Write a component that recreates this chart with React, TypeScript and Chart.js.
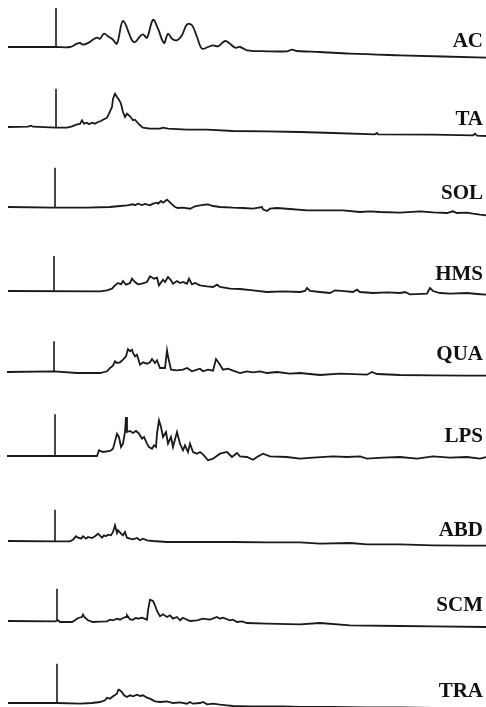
import React, { useEffect, useRef } from "react";
import { Chart, registerables } from "chart.js";

Chart.register(...registerables);

// Muscle names (trace labels)
const MUSCLES = ["AC", "TA", "SOL", "HMS", "QUA", "LPS", "ABD", "SCM", "TRA"];

// Stimulus marker: time position and height (amplitude units)
const STIM_X = [56, 56, 55, 54, 54, 55, 55, 57, 57];
const STIM_H = [39, 38.3, 39.3, 35, 30.7, 41.7, 31.3, 32.3, 39.3];

// EMG traces: [time, amplitude]
const AC = [[8,0],[56,0],[70,0],[77,3.3],[80,4],[83,2.3],[88,4],[93,7.3],[97,9.3],[100,8.3],[104,13.3],[108,10.7],[113,7.3],[117,3.3],[123,26],[132,6.7],[135,5],[140,10.7],[143,12.7],[147,9.3],[153,27.3],[158,18.3],[164,4],[168,13.3],[172,8.3],[177,6.7],[182,11.7],[187,22.7],[192,21.7],[197,10],[202,-1.7],[208,0],[213,1.7],[218,0.7],[225,6],[230,3.3],[235,-0.7],[240,0],[247,-3.3],[267,-4.3],[287,-4.3],[292,-2.7],[297,-4],[320,-5],[350,-6.7],[400,-8.3],[486,-10.7]];
const TA = [[8,0],[28,0.3],[31,1.3],[33,0.3],[56,-0.7],[67,-0.7],[72,0.7],[77,2.7],[80,3],[82,6.7],[84,3.3],[87,4.3],[89,2.7],[92,4.3],[95,3.3],[98,5],[101,6],[103,7.3],[107,9.3],[109,13.3],[112,20],[113,28.3],[115,33.3],[117,30],[119,27.3],[121,23.3],[123,15],[125,10],[127,13.3],[130,10.7],[133,6.7],[135,7.3],[137,5],[140,1.7],[143,-0.7],[150,-1.7],[160,-1.7],[163,-0.7],[168,-1.7],[187,-2.7],[207,-2.7],[233,-4],[267,-4.3],[300,-5],[333,-6],[375,-7.3],[377,-6],[378,-7.3],[433,-7.7],[473,-8.3],[475,-6.7],[477,-8.7],[486,-9]];
const SOL = [[8,0],[55,-0.7],[87,-0.7],[110,0],[120,1],[127,1.7],[133,2.7],[135,1.7],[138,3.3],[142,2],[145,3],[150,1.7],[153,3.3],[157,4.3],[158,3.3],[161,6],[163,4.3],[167,7.3],[169,5.7],[172,2.7],[175,0],[178,-1],[183,-0.7],[190,-1.7],[195,0.7],[200,1.7],[205,2.3],[208,2.7],[213,1],[220,0],[233,-0.7],[243,-1],[253,-1.7],[262,0],[263,-2.3],[267,-4],[270,-1.7],[277,-1],[290,-2],[307,-3.3],[327,-3.3],[343,-3.3],[360,-5],[370,-4.3],[380,-5],[400,-5.7],[420,-4.3],[433,-5.3],[447,-6],[453,-4.3],[457,-6],[467,-5.7],[473,-6.7],[480,-7.7],[486,-8.3]];
const HMS = [[8,0],[100,-0.3],[107,0.7],[112,2.3],[115,5.7],[118,8],[121,6.7],[123,10],[126,6.3],[130,8],[132,12.3],[135,9],[138,6.7],[142,7.3],[147,9],[150,14.7],[154,12.3],[157,13.3],[159,5.7],[163,11.3],[165,9],[168,14],[171,10.7],[173,7.3],[177,10],[180,8],[183,9],[187,7.3],[189,12.3],[192,6.7],[195,8],[200,5.7],[207,4.7],[213,4],[217,6.3],[220,4],[230,2.3],[240,2],[253,0.7],[267,-1],[283,-0.3],[300,-1],[305,0],[307,3],[310,0],[320,-1],[330,-2],[335,0.7],[347,-0.3],[353,-1],[357,1.3],[360,-1],[373,-2],[387,-1.3],[400,-2],[405,-1],[410,-3.3],[427,-2.7],[430,3],[433,0],[440,-2],[450,-2.7],[467,-2],[477,-3],[486,-3.7]];
const QUA = [[7,0],[54,0.7],[77,-1],[100,-1],[107,0.7],[110,4],[113,6.3],[115,10.7],[117,9],[120,9.7],[123,12.3],[126,15.7],[128,23],[130,20.7],[132,22.3],[133,19],[135,15.7],[137,17.3],[140,7.3],[143,9.7],[147,8.3],[150,9.7],[152,13],[155,9],[157,11.7],[160,4],[165,4],[167,21.7],[168,15.7],[171,2.3],[177,1.7],[183,2.3],[187,4],[192,0.7],[197,2.3],[200,3.3],[203,0.7],[208,2.3],[213,1.3],[216,13],[220,7.3],[223,2.3],[228,3.3],[233,1.3],[240,-1],[247,0.7],[253,-0.3],[260,0.7],[267,-1],[277,0],[290,-1.7],[300,-1],[320,-3],[340,-1.7],[367,-2.7],[372,0],[377,-2],[400,-3],[433,-3.3],[467,-3.7],[486,-3.7]];
const LPS = [[7,0],[55,0],[97,0],[99,5.7],[103,4],[110,5],[113,7.3],[117,22.3],[119,19],[121,9],[123,12.3],[125,24],[126,39],[127,24],[130,25],[133,23],[136,25],[139,22.3],[142,17.3],[144,19],[147,12.3],[149,9],[152,7.3],[154,10.7],[156,9],[157,22.3],[159,35.7],[161,29],[163,19],[166,24],[168,12.3],[171,19],[173,9],[177,24],[180,12.3],[183,5.7],[185,10.7],[188,4],[190,12.3],[193,4],[197,2.3],[200,4],[203,1.7],[208,-4.3],[213,-2.7],[220,2.3],[227,4],[232,-1],[237,3],[240,-0.3],[247,-1],[253,-3.7],[257,-1],[263,2.3],[270,-0.3],[287,-1],[300,-2.7],[313,-1.7],[333,-0.3],[347,-1],[360,-0.3],[367,-2.7],[383,-1.7],[400,-1],[417,-2.7],[433,-0.3],[450,-1.7],[467,-1],[480,-2.7],[486,-1]];
const ABD = [[8,0],[55,-0.3],[70,-0.3],[73,1.3],[76,4.7],[78,3.3],[81,2.3],[83,4.7],[86,2.3],[88,4],[92,3],[95,4.7],[98,7.3],[102,3.3],[104,5.7],[106,4.7],[108,6.3],[111,5.7],[113,9],[115,15.7],[117,8],[118,10.7],[121,7.3],[123,5.7],[125,9],[127,3.3],[130,2.3],[133,1.7],[137,3],[140,0.7],[143,2.3],[147,0.7],[153,0],[167,-1],[200,-1],[233,-1],[267,-1.3],[300,-1.3],[320,-2.7],[350,-2],[367,-3.3],[400,-3.3],[433,-4.3],[467,-4.7],[486,-4.7]];
const SCM = [[8,0],[55,-0.3],[58,0.7],[60,-1],[72,-1],[75,0.7],[78,3],[82,4],[83,6.3],[85,3.3],[88,0.7],[93,-1],[100,-0.7],[107,-0.3],[110,1.3],[113,0.7],[117,2.3],[120,1.3],[123,3],[126,4],[127,5.7],[130,1.7],[133,1.3],[136,3.3],[138,2.3],[142,3.3],[147,1.3],[148,10.7],[150,21.3],[153,20],[155,15.7],[157,10],[160,4.7],[163,6.7],[167,4],[170,5.7],[173,2.3],[177,4],[180,0.7],[183,3.3],[187,1.3],[190,0],[197,0.7],[203,2.3],[210,1.3],[217,4],[220,2.3],[223,3.3],[230,0.7],[233,1.3],[237,-1],[242,-0.3],[247,-2],[267,-2.7],[300,-3.3],[320,-2],[350,-4.3],[400,-5],[433,-5.3],[486,-6]];
const TRA = [[8,0],[57,0],[80,-0.7],[92,0],[100,1],[105,2.7],[107,5.3],[110,4.3],[113,6.7],[117,9.3],[118,12.7],[119,13.3],[122,11],[124,7.7],[127,6],[130,7.7],[133,6.7],[137,8.3],[140,7],[143,7.7],[147,5.3],[150,4.3],[155,1.7],[160,1],[167,1.7],[173,0],[180,0.7],[187,-0.7],[190,1],[193,-0.7],[200,0],[203,1],[207,-1.3],[213,-0.7],[220,-1.7],[227,-2.3],[233,-3],[250,-3.3],[267,-3.3],[283,-3.3],[300,-4],[333,-4],[367,-4.3],[400,-4.3],[433,-5],[486,-5]];

const TRACES = [AC, TA, SOL, HMS, QUA, LPS, ABD, SCM, TRA];
const TENSION = [0.35, 0, 0, 0, 0, 0, 0, 0, 0];

// Layout (pixels)
const W = 486;
const H = 707;
const ROW_H = 70;
const Y_MIN = -15;
const Y_MAX = 55;
const BASELINE_Y = [46.7, 126.7, 206.7, 290.7, 372.3, 455.7, 540.7, 620.7, 702.7];
const LABEL_CAP_TOP = [34, 112, 186, 267, 347, 429, 523, 598, 684];

function Trace({ idx }: { idx: number }) {
  const ref = useRef<HTMLCanvasElement | null>(null);
  useEffect(() => {
    if (!ref.current) return;
    const pts = TRACES[idx].map(([x, y]) => ({ x, y }));
    const chart = new Chart(ref.current, {
      type: "line",
      data: {
        datasets: [
          {
            data: pts,
            borderColor: "#1a1a1a",
            borderWidth: 1.8,
            pointRadius: 0,
            tension: TENSION[idx],
            clip: false as any,
          },
          {
            data: [
              { x: STIM_X[idx], y: 0 },
              { x: STIM_X[idx], y: STIM_H[idx] },
            ],
            borderColor: "#1a1a1a",
            borderWidth: 1.6,
            pointRadius: 0,
            clip: false as any,
          },
        ],
      },
      options: {
        responsive: false,
        animation: false,
        events: [],
        parsing: false,
        layout: { padding: 0 },
        plugins: { legend: { display: false }, tooltip: { enabled: false }, title: { display: false } },
        scales: {
          x: { type: "linear", min: 0, max: W, display: false },
          y: { type: "linear", min: Y_MIN, max: Y_MAX, display: false },
        },
      },
    });
    return () => chart.destroy();
  }, [idx]);
  return (
    <canvas
      ref={ref}
      width={W}
      height={ROW_H}
      style={{
        position: "absolute",
        left: 0,
        top: BASELINE_Y[idx] - Y_MAX,
        width: W,
        height: ROW_H,
      }}
    />
  );
}

export default function App() {
  return (
    <div
      style={{
        position: "fixed",
        left: 0,
        top: 0,
        width: W,
        height: H,
        overflow: "hidden",
        background: "#ffffff",
      }}
    >
      {MUSCLES.map((m, i) => (
        <Trace key={m} idx={i} />
      ))}
      {MUSCLES.map((m, i) => (
        <div
          key={"l" + m}
          style={{
            position: "absolute",
            right: 3,
            top: LABEL_CAP_TOP[i] - 3.7,
            fontFamily: "'Liberation Serif', 'DejaVu Serif', serif",
            fontWeight: "bold",
            fontSize: 21,
            lineHeight: "21px",
            color: "#111",
            whiteSpace: "nowrap",
          }}
        >
          {m}
        </div>
      ))}
    </div>
  );
}
